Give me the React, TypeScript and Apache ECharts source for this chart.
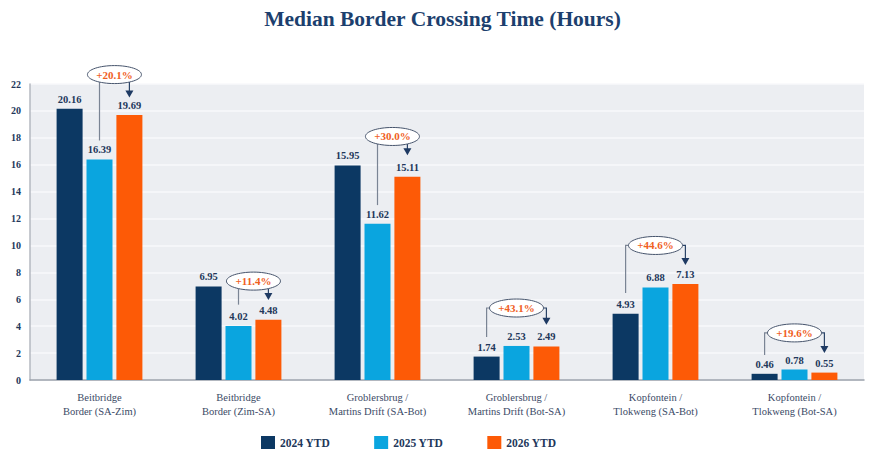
import { useEffect, useRef } from "react";
import * as echarts from "echarts";

const categories = [
  "Beitbridge\nBorder (SA-Zim)",
  "Beitbridge\nBorder (Zim-SA)",
  "Groblersbrug /\nMartins Drift (SA-Bot)",
  "Groblersbrug /\nMartins Drift (Bot-SA)",
  "Kopfontein /\nTlokweng (SA-Bot)",
  "Kopfontein /\nTlokweng (Bot-SA)",
];
const seriesNames = ["2024 YTD", "2025 YTD", "2026 YTD"];
const values2024 = [20.16, 6.95, 15.95, 1.74, 4.93, 0.46];
const values2025 = [16.39, 4.02, 11.62, 2.53, 6.88, 0.78];
const values2026 = [19.69, 4.48, 15.11, 2.49, 7.13, 0.55];

// change callouts
const pctLabels = ["+20.1%", "+11.4%", "+30.0%", "+43.1%", "+44.6%", "+19.6%"];
const bubbleLevels = [22.7, 7.35, 18.1, 5.35, 10.0, 3.5];
const bubbleShifts = [0.5, 0.5, 0.5, 0, 0, 0]; // in bar slots from group centre
const leftBars = [1, 1, 1, 0, 0, 0];
const leftEnds = [17.8, 5.6, 13.0, 3.2, 6.47, 1.86];
const arrowEnds = [21.0, 5.95, 16.7, 4.1, 8.55, 2.0];

const COLORS = ["#0c3863", "#0aa5df", "#fd5a06"];
const NAVY = "#22375a";
const SERIF = "'Liberation Serif', 'DejaVu Serif', serif";
const BAR_WIDTH = 26;
const BAR_GAP = 0.15;

export default function App() {
  const chartRef = useRef<HTMLDivElement>(null);

  useEffect(() => {
    document.body.style.margin = "0";
    if (!chartRef.current) return;
    const chart = echarts.init(chartRef.current, null, { renderer: "svg" });

    const barSeries = [values2024, values2025, values2026].map((vals, s) => ({
      name: seriesNames[s],
      type: "bar",
      data: vals,
      barWidth: BAR_WIDTH,
      barGap: `${BAR_GAP * 100}%`,
      itemStyle: { color: COLORS[s] },
      label: {
        show: true,
        position: "top",
        distance: 4,
        color: NAVY,
        fontFamily: SERIF,
        fontWeight: "bold",
        fontSize: 10.5,
        formatter: (p: any) => p.value.toFixed(2),
      },
    }));

    const calloutData = pctLabels.map((_, i) => [
      i,
      bubbleLevels[i],
      leftBars[i],
      leftEnds[i],
      arrowEnds[i],
      bubbleShifts[i],
    ]);

    const option: any = {
      animation: false,
      title: {
        text: "Median Border Crossing Time (Hours)",
        left: "center",
        top: 3,
        textStyle: {
          color: "#1c3f6e",
          fontFamily: SERIF,
          fontWeight: "bold",
          fontSize: 21.5,
        },
      },
      legend: {
        data: seriesNames,
        left: 256,
        top: 431,
        itemWidth: 14,
        itemHeight: 13,
        itemGap: 44,
        icon: "rect",
        textStyle: {
          color: NAVY,
          fontFamily: SERIF,
          fontWeight: "bold",
          fontSize: 11.5,
        },
      },
      grid: {
        left: 30,
        right: 21,
        top: 84,
        bottom: 76,
        show: true,
        backgroundColor: "#eceef2",
        borderWidth: 0,
      },
      xAxis: {
        type: "category",
        data: categories,
        axisLine: { show: true, lineStyle: { color: "#9aa1ab", width: 1.5 } },
        axisTick: { show: false },
        axisLabel: {
          color: "#3b4a66",
          fontFamily: SERIF,
          fontSize: 10.5,
          lineHeight: 14,
          margin: 10,
        },
      },
      yAxis: {
        type: "value",
        min: 0,
        max: 22,
        interval: 2,
        axisLine: { show: true, lineStyle: { color: "#b4b9c1", width: 1.5 } },
        axisTick: { show: false },
        splitLine: { lineStyle: { color: "#f8f9fb", width: 1.5 } },
        axisLabel: {
          color: NAVY,
          fontFamily: SERIF,
          fontWeight: "bold",
          fontSize: 10,
          margin: 9,
        },
      },
      series: [
        ...barSeries,
        {
          type: "custom",
          silent: true,
          clip: false,
          z: 10,
          data: calloutData,
          encode: { x: 0, y: 1 },
          renderItem: (params: any, api: any) => {
            const idx = api.value(0);
            const [gx, cy] = api.coord([idx, api.value(1)]);
            const slot = BAR_WIDTH * (1 + BAR_GAP);
            const barX = (s: number) => gx + (s - 1) * slot;
            const cx = gx + api.value(5) * slot;
            const rx = 27;
            const ry = 9;

            const pathTo = (x: number, endY: number, side: number) => {
              const dx = x - cx;
              if (Math.abs(dx) < rx - 1) {
                const sy = cy + ry * Math.sqrt(1 - (dx / rx) * (dx / rx));
                return [
                  [x, sy],
                  [x, endY],
                ];
              }
              return [
                [cx + side * rx, cy],
                [x, cy],
                [x, endY],
              ];
            };

            const lx = barX(api.value(2));
            const lEnd = api.coord([idx, api.value(3)])[1];
            const ax = barX(2);
            const aEnd = api.coord([idx, api.value(4)])[1];

            return {
              type: "group",
              children: [
                {
                  type: "polyline",
                  shape: { points: pathTo(lx, lEnd, -1) },
                  style: { stroke: "#7a8494", lineWidth: 1.2, fill: null },
                },
                {
                  type: "polyline",
                  shape: { points: pathTo(ax, aEnd - 6, 1) },
                  style: { stroke: "#2b4468", lineWidth: 1.2, fill: null },
                },
                {
                  type: "polygon",
                  shape: {
                    points: [
                      [ax - 4, aEnd - 7],
                      [ax + 4, aEnd - 7],
                      [ax, aEnd],
                    ],
                  },
                  style: { fill: "#1e3a63" },
                },
                {
                  type: "ellipse",
                  shape: { cx, cy, rx, ry },
                  style: { fill: "#ffffff", stroke: "#46546c", lineWidth: 1 },
                },
                {
                  type: "text",
                  style: {
                    text: pctLabels[params.dataIndex],
                    x: cx,
                    y: cy,
                    align: "center",
                    verticalAlign: "middle",
                    fill: "#f0601e",
                    fontFamily: SERIF,
                    fontWeight: "bold",
                    fontSize: 11,
                  },
                },
              ],
            };
          },
        },
      ],
    };

    chart.setOption(option);
    return () => chart.dispose();
  }, []);

  return <div ref={chartRef} style={{ width: 885, height: 456 }} />;
}
